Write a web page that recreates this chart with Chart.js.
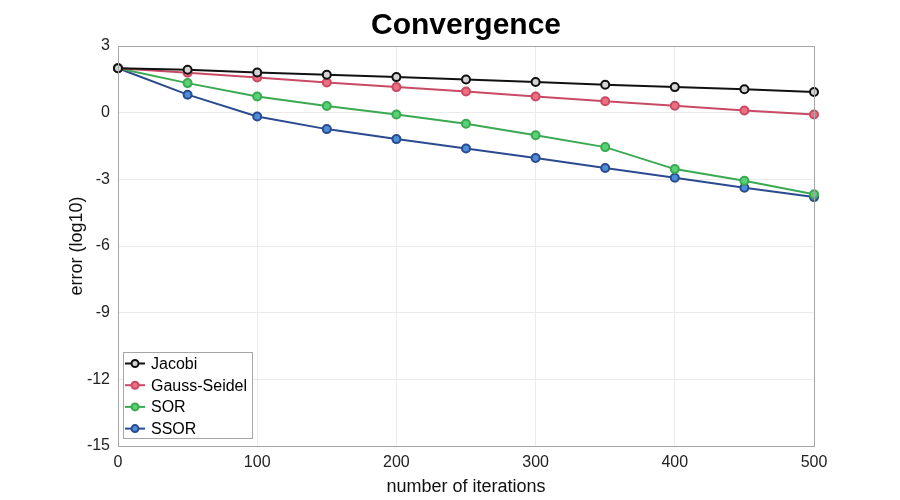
<!DOCTYPE html>
<html>
<head>
<meta charset="utf-8">
<script src="https://cdn.jsdelivr.net/npm/chart.js@4/dist/chart.umd.min.js"></script>
<style>
  html, body { margin: 0; padding: 0; background: #fff; }
  #wrap { width: 900px; height: 500px; }
</style>
</head>
<body>
<div id="wrap"><canvas id="conv" width="900" height="500"></canvas></div>
<script>
// Data
const iterations = [0, 50, 100, 150, 200, 250, 300, 350, 400, 450, 500];
const jacobi = [2.0, 1.93, 1.81, 1.71, 1.60, 1.49, 1.38, 1.26, 1.15, 1.05, 0.93];
const gaussSeidel = [2.0, 1.80, 1.58, 1.36, 1.15, 0.95, 0.73, 0.51, 0.31, 0.10, -0.08];
const sor = [2.0, 1.33, 0.73, 0.30, -0.08, -0.50, -1.02, -1.55, -2.54, -3.06, -3.67];
const ssor = [2.0, 0.81, -0.17, -0.74, -1.19, -1.61, -2.04, -2.49, -2.93, -3.38, -3.80];
const yTicks = [3, 0, -3, -6, -9, -12, -15];
const xTicks = [0, 100, 200, 300, 400, 500];

const FONT = '"Liberation Sans", Arial, sans-serif';

const seriesStyle = [
    { label: 'Jacobi', data: jacobi, line: '#111111', fill: '#d4d4d4' },
    { label: 'Gauss-Seidel', data: gaussSeidel, line: '#c94a64', fill: '#ee7080' },
    { label: 'SOR', data: sor, line: '#3aaa52', fill: '#58d274' },
    { label: 'SSOR', data: ssor, line: '#2b4a8f', fill: '#4a8fd8' }
];

/**
 * HELPER: title, frame and inset legend (MATLAB look)
 */
const matlabFrame = {
    id: 'matlabFrame',
    afterDraw(chart) {
        const { ctx, chartArea: a } = chart;
        ctx.save();

        // box around plot
        ctx.strokeStyle = '#a6a6a6';
        ctx.lineWidth = 1;
        ctx.strokeRect(a.left + 0.5, a.top + 0.5, a.right - a.left, a.bottom - a.top);

        // title
        ctx.fillStyle = '#000';
        ctx.font = 'bold 30px ' + FONT;
        ctx.textAlign = 'center';
        ctx.textBaseline = 'middle';
        ctx.fillText('Convergence', (a.left + a.right) / 2, 26);

        // legend
        const lx = a.left + 5, ly = 352, lw = 129, lh = 86;
        ctx.fillStyle = '#fff';
        ctx.fillRect(lx, ly, lw, lh);
        ctx.strokeStyle = '#a6a6a6';
        ctx.strokeRect(lx + 0.5, ly + 0.5, lw, lh);

        ctx.font = '16px ' + FONT;
        ctx.textAlign = 'left';
        chart.data.datasets.forEach((ds, i) => {
            const y = 363.5 + i * 21.7;
            ctx.strokeStyle = ds.borderColor;
            ctx.lineWidth = 2;
            ctx.beginPath();
            ctx.moveTo(lx + 2, y);
            ctx.lineTo(lx + 22, y);
            ctx.stroke();
            ctx.beginPath();
            ctx.arc(lx + 12, y, 3.5, 0, Math.PI * 2);
            ctx.fillStyle = ds.pointBackgroundColor;
            ctx.fill();
            ctx.stroke();
            ctx.fillStyle = '#000';
            ctx.fillText(ds.label, lx + 28, y + 1);
        });
        ctx.restore();
    }
};

new Chart(document.getElementById('conv'), {
    type: 'line',
    data: {
        datasets: seriesStyle.map(s => ({
            label: s.label,
            data: iterations.map((x, i) => ({ x: x, y: s.data[i] })),
            borderColor: s.line,
            backgroundColor: s.fill,
            pointBackgroundColor: s.fill,
            pointBorderColor: s.line,
            pointBorderWidth: 2,
            pointRadius: 4,
            borderWidth: 2,
            tension: 0,
            clip: false
        }))
    },
    options: {
        responsive: false,
        animation: false,
        layout: { padding: { top: 46, right: 86, left: 0, bottom: 0 } },
        plugins: {
            legend: { display: false },
            tooltip: { enabled: false }
        },
        scales: {
            x: {
                type: 'linear',
                min: 0,
                max: 500,
                afterBuildTicks: scale => { scale.ticks = xTicks.map(v => ({ value: v })); },
                afterFit: scale => { scale.height = 54; },
                grid: { color: '#ebebeb', drawTicks: false },
                border: { display: false },
                ticks: { color: '#222', font: { family: FONT, size: 16 }, padding: 7 },
                title: {
                    display: true,
                    text: 'number of iterations',
                    color: '#111',
                    font: { family: FONT, size: 18 },
                    padding: { top: 0, bottom: 2 }
                }
            },
            y: {
                min: -15,
                max: 3,
                afterBuildTicks: scale => { scale.ticks = yTicks.map(v => ({ value: v })); },
                afterFit: scale => { scale.width = 118; },
                grid: { color: '#ebebeb', drawTicks: false },
                border: { display: false },
                ticks: { color: '#222', font: { family: FONT, size: 16 }, padding: 8 },
                title: {
                    display: true,
                    text: 'error (log10)',
                    color: '#111',
                    font: { family: FONT, size: 18 },
                    padding: { top: 66, bottom: 0 }
                }
            }
        }
    },
    plugins: [matlabFrame]
});
</script>
</body>
</html>
